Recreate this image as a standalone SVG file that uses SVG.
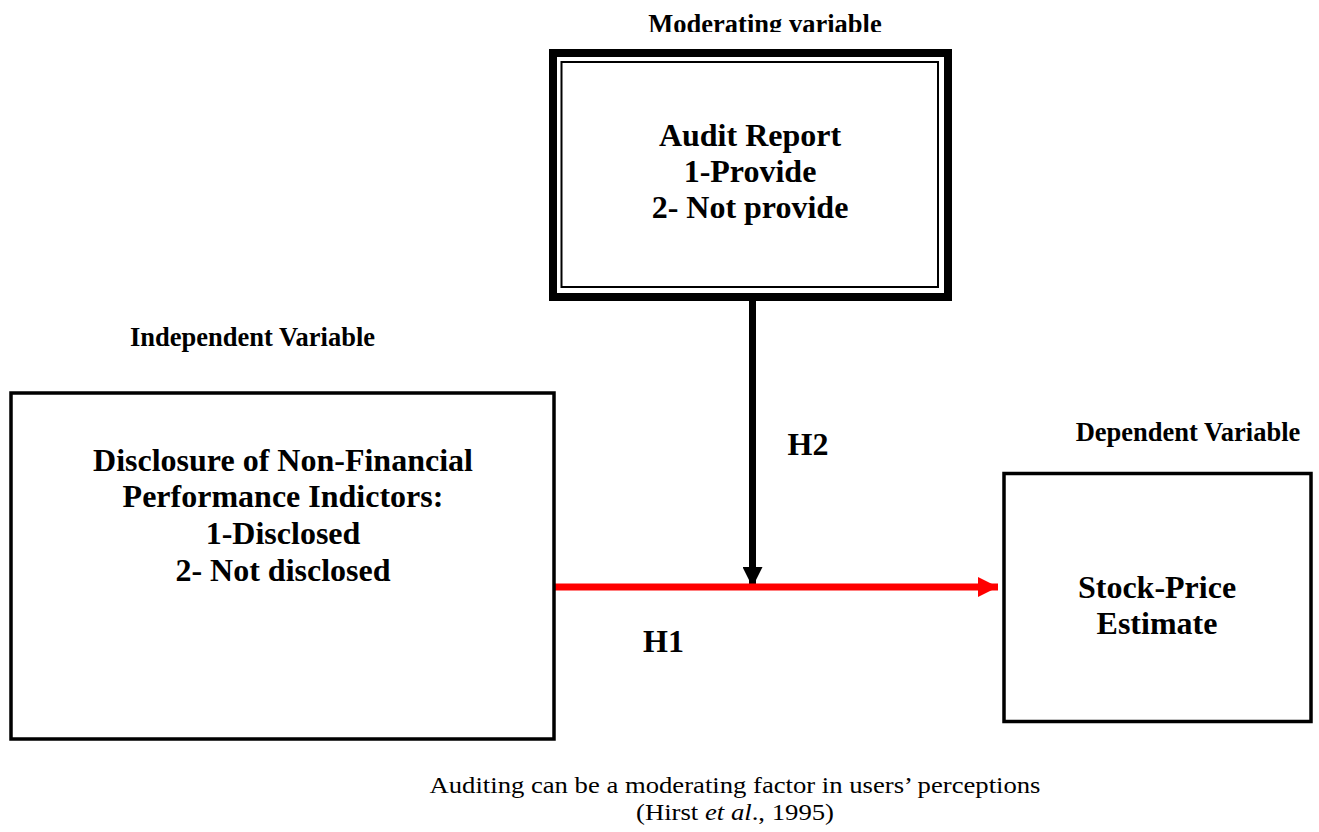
<svg xmlns="http://www.w3.org/2000/svg" width="1319" height="832" viewBox="0 0 1319 832">
  <style>
    .b { font-family: "Liberation Serif", "Times New Roman", serif; font-weight: bold; fill: #000; text-anchor: middle; }
    .main { font-size: 32px; }
    .lbl { font-size: 26.5px; }
    .cap { font-family: "Liberation Serif", "Times New Roman", serif; font-size: 23px; fill: #000; text-anchor: middle; }
    .box { fill: #fff; stroke: #000; stroke-width: 3.5; }
  </style>
  <defs>
    <clipPath id="topclip"><rect x="0" y="0" width="1319" height="32"/></clipPath>
    <marker id="headBlack" markerUnits="userSpaceOnUse" markerWidth="20" markerHeight="20" refX="20" refY="10" orient="auto">
      <path d="M0,0 L20,10 L0,20 Z" fill="#000"/>
    </marker>
    <marker id="headRed" markerUnits="userSpaceOnUse" markerWidth="20" markerHeight="20" refX="20" refY="10" orient="auto">
      <path d="M0,0 L20,10 L0,20 Z" fill="#ff0000"/>
    </marker>
  </defs>
  <rect width="1319" height="832" fill="#fff"/>

  <text class="b lbl" x="765" y="33" clip-path="url(#topclip)">Moderating variable</text>
  <text class="b lbl" x="252.5" y="346">Independent Variable</text>
  <text class="b lbl" x="1188" y="441">Dependent Variable</text>

  <g id="connectors">
    <line x1="752.5" y1="301" x2="752.5" y2="587" stroke="#000" stroke-width="7" marker-end="url(#headBlack)"/>
    <line x1="552" y1="587" x2="998" y2="587" stroke="#ff0000" stroke-width="7" marker-end="url(#headRed)"/>
    <text class="b main" x="808" y="455">H2</text>
    <text class="b main" x="663.5" y="652">H1</text>
  </g>

  <g id="audit">
    <rect x="553" y="53" width="395" height="244" fill="#fff" stroke="#000" stroke-width="8"/>
    <rect x="561.5" y="62" width="376.5" height="225" fill="none" stroke="#000" stroke-width="2"/>
    <text class="b main" x="750" y="146">Audit Report</text>
    <text class="b main" x="750" y="182">1-Provide</text>
    <text class="b main" x="750" y="218">2- Not provide</text>
  </g>

  <g id="disclosure">
    <rect class="box" x="11" y="393" width="543" height="346"/>
    <text class="b main" x="283" y="471">Disclosure of Non-Financial</text>
    <text class="b main" x="283" y="507">Performance Indictors:</text>
    <text class="b main" x="283" y="544">1-Disclosed</text>
    <text class="b main" x="283" y="581">2- Not disclosed</text>
  </g>

  <g id="stockprice">
    <rect class="box" x="1004" y="473.5" width="307" height="248"/>
    <text class="b main" x="1157" y="598">Stock-Price</text>
    <text class="b main" x="1157" y="634">Estimate</text>
  </g>

  <text class="cap" x="735" y="793" textLength="611" lengthAdjust="spacingAndGlyphs">Auditing can be a moderating factor in users’ perceptions</text>
  <text class="cap" x="735" y="820" textLength="198" lengthAdjust="spacingAndGlyphs">(Hirst <tspan font-style="italic">et al</tspan>., 1995)</text>
</svg>
